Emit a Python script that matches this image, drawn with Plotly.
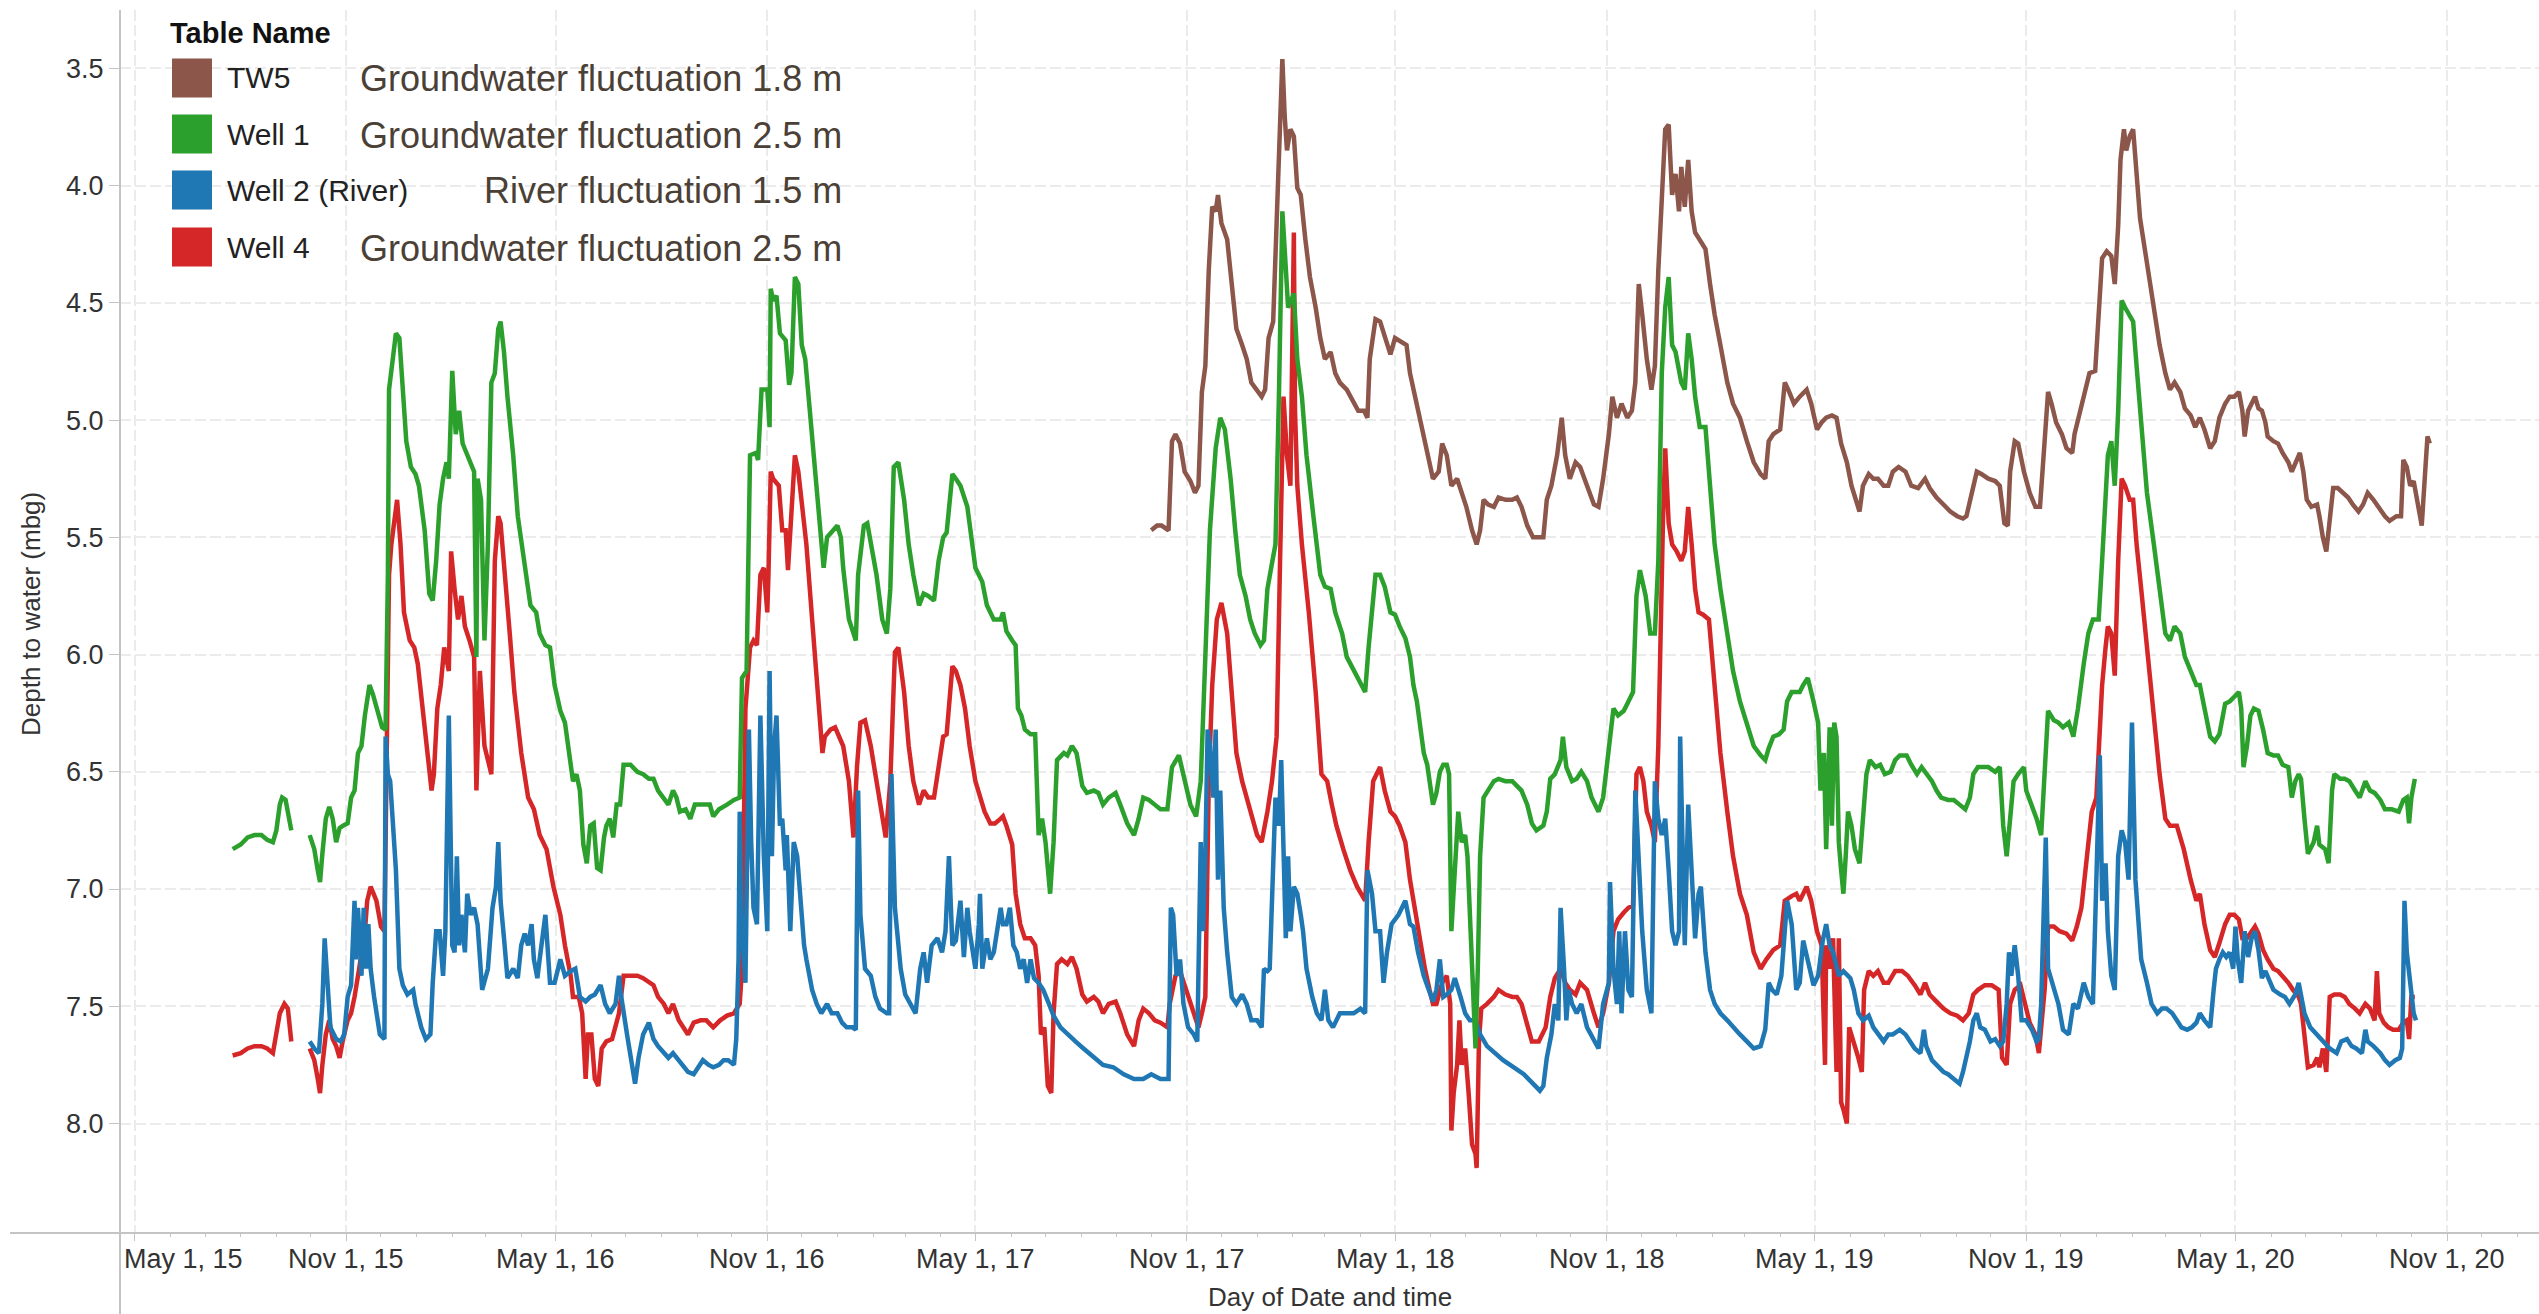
import pandas as pd
import plotly.graph_objects as go

# ---------------------------------------------------------------- data
DAY0 = "2015-05-01"          # day offsets below are counted from this date

TW5_DAY = [884,889,893,899,902,905,909,913,918,922,
           925,928,931,934,937,940,942,945,950,954,
           958,963,967,971,976,980,983,986,990,993,
           996,998,1000,1002,1005,1008,1011,1014,1018,1022,
           1027,1031,1035,1040,1044,1048,1054,1060,1064,1069,
           1072,1074,1079,
           1083,1087,1092,1096,1100,1106,1109,1112,1116,1121,
           1125,1129,1134,1137,1141,1145,1150,1154,1158,1163,
           1167,1170,1173,1177,1182,1186,1192,1198,1202,1206,
           1211,1216,1222,1225,1228,1232,1237,1241,1244,1248,
           1253,1257,1263,1269,1273,1277,1282,1285,1289,1293,
           1298,1302,1305,1308,1311,1315,1319,1322,1325,1328,
           1331,1334,1337,1340,1343,1345,1348,1351,1354,1357,
           1361,1366,1370,1374,1379,1385,1390,1396,1402,1408,
           1414,1418,1421,1425,1431,1435,1438,1443,
           1448,1454,1458,1463,1467,1471,1476,1480,1484,1489,
           1493,1498,1500,1503,1508,1512,1516,1521,1525,1529,
           1534,1540,1545,1551,1557,1561,1567,1573,1579,1585,
           1590,1593,1598,1602,1606,1612,1618,1622,1626,1629,
           1631,1635,1638,1643,1648,1653,1657,1661,1664,1667,
           1671,1676,1680,1685,1687,1692,1696,1700,1705,1708,
           1711,1715,1719,1722,1725,1727,1730,1732,1735,1738,
           1741,1744,1750,1756,1761,1766,1770,1774,1779,1783,
           1788,1792,
           1796,1800,1805,1809,1813,1818,1822,1826,1830,1833,
           1835,1838,1841,1844,1847,1850,1853,1855,1860,1864,
           1868,1873,1876,1880,1883,1886,1889,1893,1898,1900,
           1903,1906,1909,1912,1916,1921,1925,1929,1934,1938,
           1942,1947,1951,1957,1961,1967,1971,1973,1976,1979,
           1982,1985,1989,1992,1994,1996]
TW5_DEPTH = [5.47,5.45,5.45,5.47,5.09,5.06,5.10,5.22,5.26,5.31,
             5.28,4.88,4.77,4.36,4.09,4.11,4.04,4.16,4.23,4.42,
             4.61,4.68,4.74,4.84,4.87,4.90,4.87,4.65,4.58,4.20,
             3.79,3.46,3.70,3.85,3.76,3.79,4.01,4.04,4.23,4.39,
             4.52,4.65,4.74,4.71,4.80,4.84,4.87,4.93,4.96,4.96,
             4.99,4.74,4.57,
             4.58,4.65,4.72,4.65,4.66,4.68,4.80,4.87,4.96,5.07,
             5.18,5.25,5.22,5.10,5.15,5.28,5.25,5.31,5.37,5.47,
             5.53,5.47,5.34,5.36,5.37,5.33,5.34,5.34,5.33,5.37,
             5.45,5.50,5.50,5.50,5.34,5.28,5.15,4.99,5.15,5.25,
             5.18,5.20,5.28,5.36,5.37,5.25,5.06,4.90,4.99,4.93,
             4.99,4.96,4.84,4.42,4.55,4.74,4.87,4.77,4.36,4.01,
             3.76,3.74,4.04,3.95,4.11,3.92,4.09,3.89,4.11,4.20,
             4.23,4.27,4.42,4.55,4.68,4.84,4.93,4.99,5.09,5.18,
             5.23,5.25,5.09,5.06,5.04,4.84,4.87,4.93,
             4.90,4.87,4.93,5.04,5.01,4.99,4.98,4.99,5.10,5.18,
             5.28,5.37,5.39,5.28,5.23,5.25,5.25,5.28,5.28,5.22,
             5.20,5.22,5.28,5.29,5.25,5.29,5.33,5.36,5.39,5.41,
             5.42,5.41,5.31,5.22,5.23,5.25,5.26,5.28,5.44,5.45,
             5.22,5.09,5.10,5.22,5.31,5.37,5.37,5.12,4.88,4.93,
             5.01,5.06,5.12,5.14,5.06,4.96,4.88,4.80,4.79,4.58,
             4.31,4.28,4.30,4.42,4.17,3.89,3.76,3.85,3.79,3.76,
             3.93,4.14,4.33,4.52,4.68,4.80,4.87,4.84,4.88,4.95,
             4.98,5.03,
             4.99,5.04,5.12,5.09,4.99,4.93,4.90,4.90,4.88,4.96,
             5.07,4.96,4.93,4.90,4.95,4.96,5.01,5.07,5.09,5.10,
             5.14,5.18,5.22,5.18,5.14,5.22,5.34,5.37,5.36,5.41,
             5.50,5.56,5.41,5.29,5.29,5.31,5.33,5.36,5.39,5.36,
             5.31,5.34,5.37,5.41,5.43,5.41,5.41,5.17,5.20,5.28,
             5.26,5.34,5.45,5.22,5.07,5.10]

WELL1_DAY = [85,92,98,104,110,115,120,123,126,128,
             131,134,136,144,152,156,159,161,163,166,
             169,172,175,178,181,185,188,191,194,197,
             200,204,207,211,215,218,220,221,224,227,
             230,233,236,240,244,247,252,256,259,262,
             265,268,271,273,275,276,279,282,285,289,
             292,295,297,298,301,304,307,310,313,316,
             318,321,324,329,333,339,344,349,
             352,357,361,365,370,374,379,381,384,387,
             390,393,396,399,402,405,408,410,413,416,
             419,422,425,431,437,442,447,451,455,460,
             464,468,471,474,479,483,487,492,496,500,
             503,508,515,521,526,528,532,535,540,542,
             545,550,552,553,555,558,561,566,569,571,
             574,577,580,583,587,592,596,599,602,606,
             611,614,616,621,625,627,629,634,637,641,
             645,650,654,657,660,664,669,673,677,682,
             686,690,695,699,703,706,711,714,
             718,724,731,737,741,747,753,755,758,763,
             766,768,771,774,779,783,786,789,792,796,
             799,802,808,811,815,819,824,828,834,838,
             842,847,853,857,863,869,873,877,882,887,
             892,898,902,908,912,918,923,927,931,935,
             940,944,948,953,957,961,966,970,974,979,
             982,985,989,992,995,998,1000,1003,1008,1011,
             1015,1019,1025,1031,1035,1040,1044,1050,1054,1060,
             1066,1070,1073,1076,1079,
             1083,1087,1092,1096,1100,1105,1109,1112,1115,1118,
             1121,1124,1126,1129,1132,1135,1138,1141,1143,1145,
             1148,1151,1154,1157,1159,1161,1164,1166,1168,1170,
             1173,1177,1182,1186,1192,1198,1202,1206,1211,1215,
             1219,1225,1228,1231,1235,1240,1242,1245,1250,1254,
             1258,1263,1267,1273,1277,1282,1286,1290,1295,1299,
             1303,1306,1309,1314,1318,1322,1325,1328,1331,1334,
             1337,1340,1343,1345,1348,1351,1354,1357,1361,1366,
             1370,1374,1379,1385,1390,1396,1402,1408,1414,1418,
             1421,1425,1430,1434,1437,1441,1445,
             1448,1451,1455,1460,1464,1466,1469,1471,1474,1476,
             1478,1480,1482,1484,1486,1488,1490,1493,1496,1500,
             1503,1506,1509,1514,1518,1522,1527,1531,1535,1541,
             1545,1550,1554,1558,1563,1567,1571,1577,1582,1587,
             1592,1596,1599,1603,1608,1612,1618,1622,1625,1628,
             1631,1634,1638,1643,1645,1650,1654,1658,1661,1664,
             1669,1673,1677,1682,1686,1690,1695,1699,1703,1708,
             1711,1714,1716,1719,1722,1725,1728,1731,1734,1738,
             1741,1745,1750,1756,1761,1766,1770,1774,1779,1783,
             1788,1793,
             1796,1800,1805,1809,1813,1818,1822,1826,1830,1832,
             1834,1837,1840,1843,1847,1851,1855,1860,1864,1868,
             1873,1876,1879,1882,1884,1887,1890,1895,1898,1900,
             1905,1908,1911,1913,1918,1922,1926,1931,1935,1940,
             1944,1948,1953,1957,1963,1969,1973,1976,1978,1980,
             1983]
WELL1_DEPTH = [6.83,6.81,6.78,6.77,6.77,6.79,6.80,6.75,6.64,6.61,
               6.62,6.69,6.75,None,6.77,6.83,6.92,6.97,6.85,6.70,
               6.65,6.70,6.80,6.74,6.73,6.72,6.61,6.58,6.42,6.39,
               6.26,6.13,6.17,6.24,6.31,6.32,5.66,4.87,4.74,4.63,
               4.65,4.90,5.09,5.20,5.23,5.28,5.47,5.74,5.77,5.60,
               5.36,5.25,5.18,5.25,4.80,4.79,5.06,4.96,5.10,5.15,
               5.18,5.22,6.01,5.25,5.34,5.94,5.53,4.84,4.80,4.61,
               4.58,4.71,4.90,5.15,5.41,5.63,5.79,5.82,
               5.91,5.96,5.97,6.13,6.24,6.29,6.45,6.54,6.51,6.58,
               6.81,6.89,6.73,6.72,6.91,6.92,6.78,6.73,6.70,6.78,
               6.64,6.64,6.47,6.47,6.50,6.51,6.53,6.53,6.58,6.61,
               6.64,6.58,6.61,6.67,6.66,6.70,6.64,6.64,6.64,6.64,
               6.69,6.66,6.64,6.62,6.61,6.10,6.07,5.15,5.14,5.17,
               4.87,4.87,5.03,4.44,4.49,4.47,4.63,4.66,4.85,4.80,
               4.39,4.42,4.68,4.74,4.96,5.25,5.47,5.63,5.50,5.48,
               5.45,5.50,5.63,5.85,5.91,5.94,5.66,5.45,5.44,5.56,
               5.66,5.85,5.91,5.72,5.20,5.18,5.34,5.53,5.66,5.79,
               5.74,5.75,5.77,5.60,5.50,5.48,5.23,5.25,
               5.28,5.37,5.63,5.69,5.79,5.85,5.85,5.82,5.90,5.94,
               5.96,6.23,6.26,6.32,6.34,6.34,6.77,6.70,6.80,7.02,
               6.80,6.45,6.42,6.43,6.39,6.42,6.56,6.59,6.58,6.59,
               6.64,6.61,6.59,6.64,6.72,6.77,6.70,6.61,6.62,6.64,
               6.66,6.66,6.48,6.43,6.51,6.64,6.69,6.54,6.01,5.47,
               5.12,4.99,5.04,5.25,5.47,5.66,5.75,5.85,5.91,5.96,
               5.94,5.72,5.61,5.53,4.90,4.11,4.27,4.52,4.46,4.74,
               4.90,5.15,5.41,5.66,5.71,5.72,5.82,5.91,6.01,6.07,
               6.13,6.16,5.97,5.79,5.66,
               5.66,5.71,5.82,5.83,5.88,5.93,6.01,6.13,6.20,6.31,
               6.42,6.47,6.54,6.64,6.59,6.50,6.47,6.47,6.51,7.18,
               6.92,6.67,6.80,6.77,6.86,7.11,7.37,7.68,7.34,6.86,
               6.61,6.58,6.54,6.53,6.54,6.54,6.56,6.58,6.64,6.72,
               6.75,6.73,6.67,6.53,6.51,6.45,6.35,6.48,6.54,6.53,
               6.50,6.54,6.61,6.67,6.61,6.39,6.23,6.26,6.24,6.20,
               6.16,5.75,5.64,5.75,5.91,5.91,5.60,4.80,4.52,4.39,
               4.68,4.71,4.80,4.84,4.87,4.63,4.74,4.90,5.03,5.03,
               5.28,5.53,5.72,5.91,6.07,6.20,6.29,6.39,6.43,6.45,
               6.40,6.35,6.34,6.32,6.20,6.16,6.16,
               6.16,6.13,6.10,6.20,6.29,6.58,6.42,6.83,6.31,6.73,
               6.29,6.35,6.80,6.92,7.02,6.86,6.67,6.73,6.83,6.89,
               6.67,6.51,6.45,6.48,6.47,6.51,6.50,6.45,6.43,6.43,
               6.47,6.51,6.48,6.51,6.54,6.58,6.61,6.62,6.62,6.64,
               6.66,6.61,6.51,6.48,6.48,6.48,6.50,6.48,6.73,6.86,
               6.70,6.54,6.51,6.48,6.58,6.64,6.70,6.77,6.51,6.24,
               6.28,6.29,6.31,6.29,6.35,6.23,6.04,5.91,5.85,5.85,
               5.60,5.28,5.15,5.09,5.28,4.96,4.49,4.52,4.55,4.58,
               4.77,5.03,5.31,5.53,5.72,5.91,5.94,5.88,5.91,6.01,
               6.07,6.13,
               6.13,6.23,6.35,6.37,6.34,6.21,6.20,6.18,6.16,6.23,
               6.48,6.39,6.26,6.23,6.24,6.32,6.42,6.43,6.43,6.47,
               6.48,6.61,6.54,6.51,6.53,6.70,6.85,6.80,6.73,6.81,
               6.83,6.89,6.58,6.51,6.53,6.53,6.54,6.58,6.61,6.54,
               6.58,6.59,6.62,6.66,6.66,6.67,6.62,6.61,6.72,6.61,
               6.53]

WELL2_DAY = [152,156,160,163,165,168,170,175,179,182,
             185,188,191,192,194,197,199,201,203,205,
             208,213,217,218,220,222,224,227,230,233,
             237,242,244,249,253,257,259,262,265,268,
             270,273,276,278,280,282,284,287,289,292,
             295,298,302,307,311,314,316,318,321,324,
             329,333,336,339,342,345,347,350,
             352,357,361,365,370,374,379,383,387,392,
             396,400,405,409,413,418,421,423,428,432,
             435,438,442,447,451,455,460,464,468,473,
             477,481,486,490,494,499,503,508,512,516,
             521,523,525,526,528,531,534,536,538,541,
             544,547,550,552,554,556,558,561,563,566,
             567,570,573,576,579,582,584,589,593,597,
             602,606,611,615,619,624,627,629,631,635,
             640,644,648,654,656,658,661,666,670,674,
             679,683,686,689,693,698,702,705,708,711,
             714,
             718,721,724,726,731,734,735,737,741,744,
             747,750,753,755,758,761,764,767,770,773,
             776,779,782,786,790,795,799,805,811,818,
             825,834,842,851,860,869,877,884,892,899,
             901,903,906,909,912,916,921,924,927,929,
             931,933,935,938,940,942,944,947,950,954,
             958,963,967,971,976,980,982,985,987,992,
             995,997,999,1001,1003,1005,1008,1011,1014,1016,
             1019,1024,1028,1032,1035,1038,1042,1048,1054,1060,
             1066,1070,1072,1076,1079,
             1083,1086,1089,1093,1099,1105,1109,1112,1116,1121,
             1125,1129,1132,1135,1138,1141,1145,1148,1153,1157,
             1161,1166,1170,1176,1183,1190,1199,1208,1216,1222,
             1225,1228,1232,1235,1238,1240,1243,1245,1247,1250,
             1254,1258,1263,1269,1273,1277,1282,1283,1286,1289,
             1291,1293,1296,1299,1302,1305,1308,1311,1315,1319,
             1322,1325,1328,1331,1334,1337,1340,1343,1344,1346,
             1348,1351,1354,1357,1360,1362,1366,1370,1374,1379,
             1385,1390,1396,1402,1408,1414,1418,1421,1424,1428,
             1432,1437,1441,1445,
             1448,1451,1455,1460,1464,1468,1471,1474,1477,1482,
             1486,1492,1495,1499,1503,1508,1512,1516,1521,1525,
             1529,1535,1540,1544,1548,1553,1556,1558,1563,1567,
             1573,1577,1582,1587,1590,1593,1596,1599,1602,1605,
             1609,1614,1618,1622,1625,1628,1630,1632,1635,1638,
             1641,1645,1650,1654,1656,1658,1662,1664,1669,1673,
             1677,1682,1686,1690,1695,1699,1703,1706,1709,1711,
             1714,1716,1719,1722,1725,1728,1731,1734,1737,1740,
             1743,1745,1750,1754,1759,1763,1767,1772,1776,1780,
             1785,1789,1793,
             1796,1800,1805,1808,1810,1813,1816,1819,1822,1825,
             1827,1829,1832,1835,1838,1841,1844,1847,1850,1853,
             1855,1860,1866,1870,1874,1879,1882,1884,1887,1892,
             1898,1903,1909,1915,1919,1924,1928,1932,1937,1940,
             1942,1947,1953,1957,1961,1966,1970,1972,1974,1976,
             1979,1982,1984]
WELL2_DEPTH = [7.65,7.68,7.70,7.49,7.21,7.49,7.59,7.64,7.65,7.62,
               7.46,7.41,7.05,7.30,7.08,7.37,7.08,7.34,7.15,7.34,
               7.46,7.62,7.64,6.35,6.51,6.54,6.67,6.92,7.34,7.41,
               7.45,7.43,7.49,7.59,7.64,7.62,7.40,7.18,7.18,7.37,
               7.18,6.26,7.24,7.27,6.86,7.24,7.11,7.27,7.02,7.11,
               7.08,7.15,7.43,7.34,7.08,6.99,6.80,7.05,7.21,7.38,
               7.34,7.38,7.24,7.19,7.24,7.15,7.30,7.38,
               7.30,7.11,7.40,7.40,7.30,7.37,7.35,7.34,7.46,7.48,
               7.46,7.45,7.41,7.49,7.53,7.49,7.37,7.46,7.62,7.75,
               7.83,7.72,7.62,7.57,7.64,7.67,7.70,7.72,7.70,7.73,
               7.76,7.78,7.79,7.76,7.73,7.75,7.76,7.75,7.73,7.73,
               7.75,7.64,7.30,6.67,7.18,7.40,6.32,6.80,7.08,7.15,
               6.26,6.86,7.18,6.07,6.86,6.39,6.26,6.73,6.70,6.92,
               6.77,7.18,6.80,6.86,7.05,7.24,7.30,7.43,7.49,7.53,
               7.49,7.53,7.53,7.57,7.59,7.59,7.60,6.58,7.11,7.34,
               7.37,7.46,7.51,7.53,7.53,6.51,7.08,7.34,7.45,7.49,
               7.53,7.34,7.27,7.40,7.24,7.21,7.27,7.18,6.86,7.24,
               7.22,
               7.05,7.29,7.08,7.18,7.34,7.15,7.02,7.34,7.21,7.30,
               7.27,7.18,7.08,7.15,7.15,7.08,7.24,7.27,7.34,7.30,
               7.40,7.30,7.38,7.40,7.43,7.49,7.54,7.59,7.62,7.65,
               7.68,7.72,7.75,7.76,7.79,7.81,7.81,7.79,7.81,7.81,
               7.08,7.11,7.37,7.30,7.49,7.59,7.62,7.65,6.80,7.18,
               6.86,6.32,6.39,6.61,6.32,6.96,6.58,7.08,7.27,7.46,
               7.49,7.45,7.49,7.56,7.56,7.59,7.34,7.35,7.34,6.61,
               6.73,6.45,6.86,7.21,6.86,7.18,6.99,7.02,7.11,7.18,
               7.34,7.46,7.53,7.56,7.43,7.56,7.59,7.53,7.53,7.53,
               7.51,7.53,6.92,7.02,7.18,
               7.18,7.40,7.27,7.15,7.11,7.05,7.15,7.16,7.27,7.37,
               7.43,7.48,7.43,7.30,7.46,7.45,7.43,7.38,7.46,7.53,
               7.56,7.56,7.62,7.67,7.70,7.73,7.76,7.79,7.83,7.86,
               7.84,7.72,7.62,7.49,7.56,7.08,7.34,7.56,7.43,7.49,
               7.53,7.49,7.59,7.65,7.68,7.49,7.40,6.97,7.34,7.49,
               7.18,7.53,7.18,7.43,7.46,6.58,6.86,7.18,7.43,7.53,
               6.54,6.70,6.77,6.70,6.92,7.18,7.24,7.18,6.35,6.86,
               7.24,6.64,6.92,7.21,7.02,6.99,7.27,7.43,7.49,7.53,
               7.56,7.59,7.62,7.65,7.68,7.67,7.60,7.40,7.43,7.45,
               7.37,7.05,7.15,7.43,
               7.40,7.22,7.30,7.41,7.37,7.22,7.15,7.24,7.27,7.37,
               7.35,7.38,7.43,7.53,7.56,7.54,7.59,7.62,7.65,7.62,
               7.62,7.60,7.62,7.65,7.68,7.70,7.60,7.67,7.73,7.75,
               7.78,7.79,7.81,7.83,7.78,7.72,7.65,7.56,7.53,7.59,
               7.60,7.65,7.64,7.67,7.65,7.49,7.27,7.37,7.24,7.37,
               7.56,7.56,7.60,7.65,7.64,7.49,6.78,7.34,7.43,7.49,
               7.60,7.62,7.49,7.51,7.40,7.46,7.49,6.92,6.43,7.05,
               6.89,7.18,7.37,7.43,6.86,6.75,6.80,6.96,6.29,6.96,
               7.18,7.30,7.40,7.49,7.53,7.51,7.51,7.53,7.56,7.59,
               7.60,7.59,7.57,
               7.53,7.56,7.59,7.43,7.34,7.30,7.27,7.29,7.27,7.34,
               7.16,7.30,7.40,7.18,7.29,7.21,7.18,7.26,7.38,7.35,
               7.37,7.43,7.45,7.46,7.49,7.45,7.40,7.46,7.53,7.59,
               7.62,7.65,7.68,7.70,7.65,7.64,7.67,7.68,7.70,7.60,
               7.65,7.67,7.70,7.73,7.75,7.73,7.72,7.68,7.05,7.27,
               7.40,7.53,7.56]

WELL4_DAY = [85,92,98,104,110,115,120,123,126,130,
             133,136,144,152,156,159,161,163,166,169,
             172,175,178,181,185,188,191,195,200,202,
             205,210,214,217,219,221,223,228,231,234,
             239,243,246,250,255,258,260,263,266,269,
             273,275,278,281,284,287,291,295,297,300,
             304,310,313,316,318,321,326,330,336,342,
             347,
             352,358,364,370,374,379,381,386,389,392,
             394,397,400,403,406,410,415,418,421,425,
             431,437,442,447,451,455,460,464,468,473,
             477,481,486,492,497,503,509,515,521,526,
             528,531,535,538,541,544,547,550,551,553,
             555,560,563,566,568,571,574,577,582,584,
             589,593,598,600,605,609,613,616,621,625,
             628,631,635,640,644,648,653,657,661,664,
             669,673,677,682,686,690,695,699,703,706,
             711,714,
             718,722,726,731,735,739,744,748,753,755,
             758,763,766,770,774,779,783,786,788,791,
             794,797,799,802,806,811,815,819,824,828,
             834,838,842,847,853,857,863,869,873,877,
             882,887,892,898,900,905,909,913,918,922,
             925,928,931,934,937,941,945,950,954,958,
             963,967,971,976,980,985,989,993,996,999,
             1002,1005,1008,1009,1011,1015,1021,1027,1032,1037,
             1041,1045,1051,1057,1063,1067,1070,1073,1077,
             1083,1087,1092,1096,1100,1105,1109,1113,1118,1122,
             1126,1129,1132,1137,1141,1144,1145,1147,1150,1152,
             1154,1157,1160,1163,1166,1167,1169,1171,1176,1182,
             1186,1192,1198,1202,1206,1211,1215,1221,1227,1231,
             1235,1240,1244,1248,1253,1257,1263,1269,1273,1277,
             1282,1286,1290,1295,1299,1303,1306,1309,1312,1315,
             1319,1322,1325,1329,1331,1334,1337,1341,1345,1348,
             1351,1354,1357,1360,1364,1369,1373,1379,1385,1390,
             1396,1402,1408,1414,1419,1425,1431,1435,1441,1445,
             1448,1454,1458,1463,1467,1470,1471,1474,1477,1480,
             1482,1484,1486,1489,1491,1495,1499,1502,1504,1508,
             1512,1516,1521,1525,1531,1537,1542,1548,1553,1557,
             1561,1567,1573,1579,1585,1590,1595,1599,1603,1609,
             1615,1621,1624,1628,1631,1635,1640,1644,1648,1653,
             1656,1658,1661,1664,1669,1674,1680,1685,1689,1693,
             1698,1702,1706,1708,1711,1714,1716,1719,1722,1725,
             1728,1731,1735,1738,1741,1745,1750,1756,1761,1766,
             1770,1776,1782,1788,1793,
             1796,1800,1805,1809,1813,1818,1822,1826,1830,1833,
             1837,1841,1844,1847,1851,1855,1860,1864,1868,1873,
             1877,1882,1884,1887,1890,1895,1898,1900,1903,1906,
             1909,1913,1918,1922,1926,1931,1935,1940,1944,1948,
             1950,1952,1956,1960,1964,1969,1973,1976,1978,1980,
             1983]
WELL4_DEPTH = [7.71,7.70,7.68,7.67,7.67,7.68,7.70,7.62,7.53,7.49,
               7.51,7.65,None,7.68,7.73,7.81,7.87,7.75,7.62,7.56,
               7.64,7.67,7.72,7.64,7.56,7.53,7.46,7.34,7.18,7.05,
               6.99,7.05,7.16,7.18,6.54,5.66,5.53,5.34,5.53,5.82,
               5.94,5.97,6.04,6.23,6.48,6.58,6.51,6.23,6.13,5.97,
               6.07,5.56,5.72,5.85,5.75,5.88,5.94,6.01,6.58,6.07,
               6.39,6.51,5.60,5.41,5.44,5.60,5.91,6.16,6.42,6.61,
               6.66,
               6.77,6.83,6.99,7.11,7.24,7.37,7.46,7.46,7.53,7.81,
               7.62,7.62,7.81,7.84,7.68,7.65,7.64,7.59,7.53,7.37,
               7.37,7.37,7.38,7.40,7.41,7.46,7.49,7.53,7.49,7.56,
               7.59,7.62,7.57,7.56,7.56,7.59,7.56,7.54,7.53,7.49,
               7.34,6.23,5.97,5.94,5.96,5.66,5.63,5.82,5.66,5.22,
               5.25,5.28,5.47,5.47,5.64,5.41,5.15,5.22,5.47,5.53,
               5.85,6.13,6.42,6.35,6.32,6.31,6.35,6.39,6.54,6.78,
               6.48,6.29,6.28,6.39,6.51,6.64,6.78,6.54,5.99,5.97,
               6.16,6.39,6.54,6.64,6.58,6.61,6.61,6.48,6.35,6.34,
               6.05,6.07,
               6.13,6.23,6.39,6.54,6.61,6.67,6.72,6.72,6.70,6.69,
               6.73,6.81,7.02,7.15,7.21,7.21,7.24,7.37,7.62,7.59,
               7.84,7.87,7.53,7.32,7.30,7.32,7.29,7.34,7.45,7.48,
               7.46,7.48,7.53,7.49,7.48,7.53,7.62,7.67,7.56,7.51,
               7.53,7.56,7.57,7.59,7.49,7.37,7.35,7.41,7.49,7.56,
               7.59,7.53,7.46,6.54,6.13,5.85,5.78,5.91,6.16,6.42,
               6.54,6.61,6.67,6.77,6.80,6.67,6.54,6.35,5.60,4.90,
               5.15,5.28,4.20,4.96,5.28,5.53,5.82,6.16,6.51,6.54,
               6.64,6.73,6.83,6.92,6.99,7.02,7.05,6.80,6.54,
               6.48,6.58,6.67,6.69,6.73,6.80,6.96,7.08,7.21,7.34,
               7.43,7.49,7.49,7.40,7.37,7.49,8.03,7.87,7.75,7.56,
               7.75,7.68,7.87,8.09,8.13,8.19,7.65,7.51,7.49,7.46,
               7.43,7.45,7.46,7.46,7.49,7.59,7.65,7.65,7.59,7.46,
               7.38,7.34,7.40,7.43,7.45,7.40,7.43,7.53,7.59,7.53,
               7.40,7.18,7.13,7.10,7.08,7.07,6.51,6.48,6.54,6.67,
               6.73,6.80,6.39,5.44,5.12,5.44,5.53,5.56,5.60,5.56,
               5.37,5.53,5.72,5.82,5.83,5.85,6.10,6.42,6.67,6.86,
               7.02,7.11,7.27,7.34,7.30,7.26,7.24,7.05,7.03,7.02,
               7.05,6.99,7.05,7.18,7.24,7.75,7.24,7.34,7.21,7.78,
               7.21,7.91,7.94,8.00,7.59,7.65,7.72,7.78,7.43,7.35,
               7.37,7.35,7.40,7.40,7.35,7.35,7.37,7.41,7.45,7.40,
               7.45,7.48,7.51,7.53,7.54,7.56,7.53,7.45,7.43,7.41,
               7.41,7.43,7.72,7.75,7.49,7.43,7.41,7.49,7.57,7.62,
               7.70,7.59,7.43,7.16,7.16,7.18,7.19,7.22,7.16,7.08,
               6.83,6.67,6.61,6.42,6.13,5.97,5.88,5.91,6.09,5.60,
               5.25,5.28,5.34,5.34,5.53,5.72,5.97,6.26,6.51,6.70,
               6.73,6.73,6.83,6.96,7.05,
               7.02,7.15,7.26,7.29,7.23,7.15,7.11,7.11,7.13,7.21,
               7.21,7.18,7.16,7.19,7.26,7.30,7.34,7.35,7.37,7.40,
               7.43,7.46,7.49,7.62,7.76,7.75,7.72,7.76,7.68,7.78,
               7.46,7.45,7.45,7.46,7.49,7.51,7.53,7.49,7.51,7.56,
               7.35,7.53,7.57,7.59,7.60,7.60,7.57,7.56,7.64,7.46,
               7.46]

SERIES_NAMES = ["TW5", "Well 1", "Well 2 (River)", "Well 4"]
SERIES_NOTES = ["Groundwater fluctuation 1.8 m", "Groundwater fluctuation 2.5 m",
                "River fluctuation 1.5 m", "Groundwater fluctuation 2.5 m"]
SERIES_COLORS = ["#8c564b", "#2ca02c", "#1f77b4", "#d62728"]

Y_TICKS = [3.5, 4.0, 4.5, 5.0, 5.5, 6.0, 6.5, 7.0, 7.5, 8.0]
X_TICK_DATES = ["2015-05-01", "2015-11-01", "2016-05-01", "2016-11-01",
                "2017-05-01", "2017-11-01", "2018-05-01", "2018-11-01",
                "2019-05-01", "2019-11-01", "2020-05-01", "2020-11-01"]
X_RANGE = ["2015-04-18", "2021-01-20"]
Y_RANGE = [8.467, 3.251]

# ---------------------------------------------------------------- layout geometry
FIG_W, FIG_H = 2539, 1314
M_L, M_R, M_T, M_B = 120, 0, 10, 81
PW = FIG_W - M_L - M_R
PH = FIG_H - M_T - M_B


def fx(p):
    return (p - M_L) / PW


def fy(p):
    return (FIG_H - M_B - p) / PH


FONT = "Arial, Liberation Sans, sans-serif"
TEXT_COL = "#333333"
AXIS_COL = "#c4c4c4"
GRID_COL = "#ebebeb"


def to_dates(days):
    return pd.Timestamp(DAY0) + pd.to_timedelta(days, unit="D")


series = {
    "TW5": (TW5_DAY, TW5_DEPTH),
    "Well 1": (WELL1_DAY, WELL1_DEPTH),
    "Well 2 (River)": (WELL2_DAY, WELL2_DEPTH),
    "Well 4": (WELL4_DAY, WELL4_DEPTH),
}
for k, (d, v) in series.items():
    assert len(d) == len(v), (k, len(d), len(v))

fig = go.Figure()
# draw order: Well 4 at the bottom, TW5 on top
for name in ["Well 4", "Well 2 (River)", "Well 1", "TW5"]:
    d, v = series[name]
    col = SERIES_COLORS[SERIES_NAMES.index(name)]
    fig.add_trace(go.Scatter(
        x=to_dates(d), y=v, mode="lines", name=name,
        line=dict(color=col, width=4.5), connectgaps=False, showlegend=False,
        hoverinfo="skip"))

grid_dash = "11px,4px"
fig.update_layout(
    width=FIG_W, height=FIG_H, autosize=False,
    margin=dict(l=M_L, r=M_R, t=M_T, b=M_B, pad=0),
    paper_bgcolor="white", plot_bgcolor="white",
    font=dict(family=FONT, color=TEXT_COL),
    showlegend=False,
    xaxis=dict(
        type="date", range=X_RANGE, tickmode="array", tickvals=X_TICK_DATES,
        showticklabels=False, ticks="outside", ticklen=7, tickwidth=1,
        tickcolor=AXIS_COL, showgrid=True, gridcolor=GRID_COL, gridwidth=2,
        griddash=grid_dash, showline=False, zeroline=False,
        minor=dict(ticks="outside", ticklen=3, tickwidth=1, tickcolor=AXIS_COL,
                   dtick="M1", tick0=DAY0, showgrid=False),
    ),
    yaxis=dict(
        range=Y_RANGE, tickmode="array", tickvals=Y_TICKS,
        ticktext=[f"{t:.1f}" for t in Y_TICKS],
        tickfont=dict(size=27, color=TEXT_COL, family=FONT),
        ticks="outside", ticklen=10, tickwidth=1, tickcolor=AXIS_COL,
        showgrid=True, gridcolor=GRID_COL, gridwidth=2, griddash=grid_dash,
        showline=False, zeroline=False,
    ),
)

shapes = []
# axis lines (extending into the margins, Tableau style)
shapes.append(dict(type="line", xref="paper", yref="paper", x0=0, x1=0,
                   y0=1, y1=fy(FIG_H), line=dict(color=AXIS_COL, width=2)))
shapes.append(dict(type="line", xref="paper", yref="paper", x0=fx(10), x1=1,
                   y0=0, y1=0, line=dict(color=AXIS_COL, width=2)))
# white legend panel (covers grid, below the data lines)
shapes.append(dict(type="rect", xref="paper", yref="paper", layer="between",
                   x0=fx(167), x1=fx(848), y0=fy(274), y1=1,
                   fillcolor="white", line=dict(width=0)))

annotations = []
annotations.append(dict(text="<b>Table Name</b>", xref="paper", yref="paper",
                        x=fx(168), y=fy(33), xanchor="left", yanchor="middle",
                        showarrow=False, font=dict(size=29, color="#111111", family=FONT)))
row_centres = [78, 134, 190, 247]
for name, note, col, cy in zip(SERIES_NAMES, SERIES_NOTES, SERIES_COLORS, row_centres):
    shapes.append(dict(type="rect", xref="paper", yref="paper",
                       x0=fx(172), x1=fx(212), y0=fy(cy + 19.5), y1=fy(cy - 19.5),
                       fillcolor=col, line=dict(width=0)))
    annotations.append(dict(text=name, xref="paper", yref="paper",
                            x=fx(225), y=fy(cy), xanchor="left", yanchor="middle",
                            showarrow=False, font=dict(size=30, color="#222222", family=FONT)))
    annotations.append(dict(text=note, xref="paper", yref="paper",
                            x=fx(844), y=fy(cy + 1), xanchor="right", yanchor="middle",
                            showarrow=False, font=dict(size=36, color="#4b4036", family=FONT)))

# x tick labels
for i, d in enumerate(X_TICK_DATES):
    ts = pd.Timestamp(d)
    label = f"{ts:%b} {ts.day}, {ts:%y}"
    if i == 0:
        annotations.append(dict(text=label, xref="paper", yref="paper", x=fx(122),
                                y=fy(1259), xanchor="left", yanchor="middle",
                                showarrow=False, font=dict(size=27, color=TEXT_COL, family=FONT)))
    else:
        annotations.append(dict(text=label, xref="x", yref="paper", x=d,
                                y=fy(1259), xanchor="center", yanchor="middle",
                                showarrow=False, font=dict(size=27, color=TEXT_COL, family=FONT)))

# axis titles
annotations.append(dict(text="Day of Date and time", xref="paper", yref="paper",
                        x=0.5, y=fy(1297), xanchor="center", yanchor="middle",
                        showarrow=False, font=dict(size=26, color=TEXT_COL, family=FONT)))
annotations.append(dict(text="Depth to water (mbg)", xref="paper", yref="paper",
                        x=fx(31), y=fy(614), xanchor="center", yanchor="middle",
                        textangle=-90, showarrow=False,
                        font=dict(size=26, color=TEXT_COL, family=FONT)))

fig.update_layout(shapes=shapes, annotations=annotations)

fig.write_html("out.html",
               config={"displayModeBar": False},
               post_script="document.body.style.margin='0';document.body.style.overflow='hidden';")
